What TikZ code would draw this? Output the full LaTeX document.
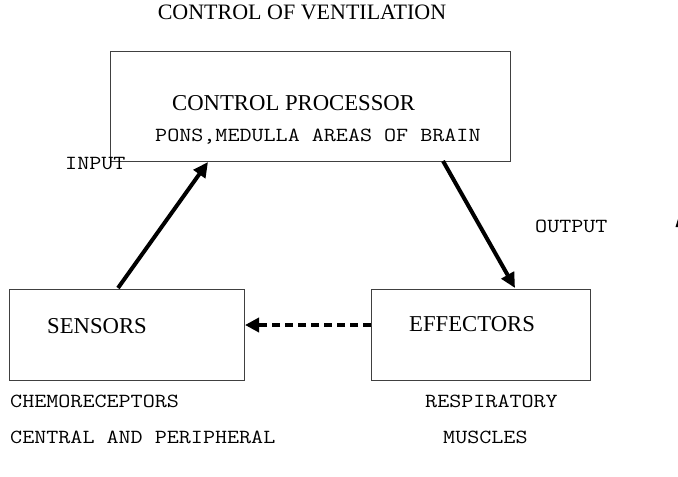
\documentclass[tikz,border=0pt]{standalone}
\usepackage{fontspec}
\setmainfont{Liberation Serif}
\setmonofont{Latin Modern Mono}[FakeStretch=1.17]
\usetikzlibrary{arrows.meta}
\begin{document}
\begin{tikzpicture}[x=1pt,y=-1pt,
  box/.style={draw=black!75,line width=0.9pt},
  serif/.style={font=\fontsize{22.7}{26}\selectfont,inner sep=0pt},
  mono/.style={font=\fontsize{20}{24}\ttfamily,inner sep=0pt},
  flow/.style={line width=4pt,-{Triangle[length=15pt,width=14pt]}},
  back/.style={line width=4.5pt,dash pattern=on 8pt off 5pt,-{Triangle[length=14pt,width=14pt]}}]
\path[use as bounding box] (0,0) rectangle (678,477);
\node[serif,font=\fontsize{22}{26}\selectfont] (title) at (302,12) {CONTROL OF VENTILATION};
\draw[box] (110,51) rectangle (510,161);
\node[serif,anchor=west] (proc) at (172,103) {CONTROL PROCESSOR};
\node[mono,anchor=west] (pons) at (155,137) {PONS,MEDULLA AREAS OF BRAIN};
\draw[box] (9,289) rectangle (244,380);
\draw[box] (371,289) rectangle (590,380);
\node[serif,anchor=west] (sens) at (47,326) {SENSORS};
\node[serif,anchor=west] (eff) at (409,324) {EFFECTORS};
\coordinate (inA) at (118,288);
\coordinate (inB) at (208,162);
\coordinate (outA) at (443,161);
\coordinate (outB) at (515,288);
\coordinate (dA) at (371,325);
\coordinate (dB) at (245,325);
\draw[flow] (inA) -- (inB);
\draw[flow] (outA) -- (outB);
\draw[back] (dA) -- (dB);
\node[mono,anchor=west] (input) at (65,164) {INPUT};
\node[mono,anchor=west] (output) at (535,226) {OUTPUT};
\node[mono,anchor=west] (chemo) at (10,401) {CHEMORECEPTORS};
\node[mono,anchor=west] (central) at (10,437) {CENTRAL AND PERIPHERAL};
\node[mono,anchor=west] (resp) at (425,401) {RESPIRATORY};
\node[mono,anchor=west] (musc) at (443,437) {MUSCLES};
\fill (675.5,227) -- (678,219) -- (678,227) -- cycle;
\end{tikzpicture}
\end{document}
